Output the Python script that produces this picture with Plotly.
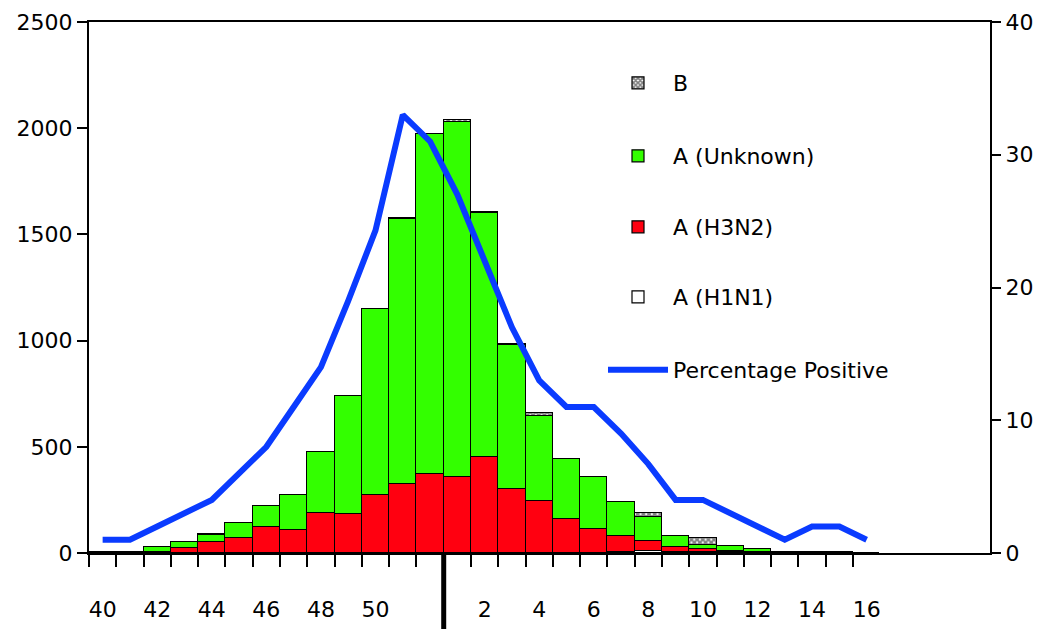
import plotly.graph_objects as go

# ---- data ----
weeks = [40, 41, 42, 43, 44, 45, 46, 47, 48, 49, 50, 51, 52,
         1, 2, 3, 4, 5, 6, 7, 8, 9, 10, 11, 12, 13, 14, 15, 16]
a_h1n1 = [0, 0, 0, 0, 0, 0, 0, 0, 0, 0, 0, 0, 0,
          0, 0, 0, 0, 2, 2, 3, 8, 5, 5, 4, 1, 0, 0, 0, 0]
a_h3n2 = [0, 0, 3, 22, 50, 72, 124, 108, 190, 184, 272, 327, 372,
          356, 452, 300, 243, 158, 110, 75, 48, 22, 14, 6, 2, 0, 0, 0, 0]
a_unknown = [0, 0, 27, 31, 34, 68, 97, 164, 284, 557, 877, 1247, 1601,
             1675, 1150, 680, 402, 282, 248, 160, 114, 54, 20, 23, 18, 0, 0, 0, 0]
b_cases = [5, 5, 0, 0, 5, 0, 0, 0, 0, 0, 0, 2, 0,
           8, 3, 2, 15, 0, 0, 2, 16, 0, 30, 0, 0, 4, 4, 4, 0]
pct_positive = [1, 1, 2, 3, 4, 6, 8, 11, 14, 19, 24.3, 33, 31,
                27, 22, 17, 13, 11, 11, 9, 6.7, 4, 4, 3, 2, 1, 2, 2, 1]
tick_weeks = [40, 42, 44, 46, 48, 50, 2, 4, 6, 8, 10, 12, 14, 16]
year_break_after_week = 52

x = list(range(len(weeks)))
tick_pos = [weeks.index(w) for w in tick_weeks]
edge_pos = [i - 0.5 for i in range(len(weeks))]  # bar boundaries (last bar has no data)
break_pos = weeks.index(year_break_after_week) + 0.5

FONT = "DejaVu Sans"
GREEN = "#33ff00"
RED = "#ff0010"
BLUE = "#0a3bff"

fig = go.Figure()
bar_line = dict(color="black", width=1.2)

fig.add_trace(go.Bar(x=x, y=a_h1n1, name="A (H1N1)", legend="legend4",
                     marker=dict(color="white", line=bar_line)))
fig.add_trace(go.Bar(x=x, y=a_h3n2, name="A (H3N2)", legend="legend3",
                     marker=dict(color=RED, line=bar_line)))
fig.add_trace(go.Bar(x=x, y=a_unknown, name="A (Unknown)", legend="legend2",
                     marker=dict(color=GREEN, line=bar_line)))
fig.add_trace(go.Bar(x=x, y=b_cases, name="B", legend="legend",
                     marker=dict(color="white", line=bar_line,
                                 pattern=dict(shape="x", fgcolor="black", bgcolor="white",
                                              size=4, solidity=0.75))))
fig.add_trace(go.Scatter(x=x, y=pct_positive, name="Percentage Positive", legend="legend5",
                         yaxis="y2", mode="lines",
                         line=dict(color=BLUE, width=6)))

# page body has an 8px default margin: the figure is sized/offset to compensate
OFF = 8
W, H = 1045 - OFF, 629 - OFF
L, R, T, B = 89 - OFF, 55, 22 - OFF, 76
pw, ph = W - L - R, H - T - B
per_bar = (853 - 89) / 28.0
x_max = -0.5 + pw / per_bar


def py(pix):
    # pix: vertical pixel position in the page
    return (H - B - (pix - OFF)) / ph


leg_x = (603 - 89) / pw
leg_common = dict(x=leg_x, xanchor="left", yanchor="middle", bgcolor="rgba(0,0,0,0)",
                  font=dict(family=FONT, size=22, color="black"), itemwidth=60,
                  borderwidth=0)

fig.update_layout(
    width=W, height=H,
    margin=dict(l=L, r=R, t=T, b=B, autoexpand=False),
    paper_bgcolor="white", plot_bgcolor="white",
    barmode="stack", bargap=0,
    font=dict(family=FONT, size=22, color="black"),
    showlegend=True,
    legend=dict(y=py(83), **leg_common),
    legend2=dict(y=py(156), **leg_common),
    legend3=dict(y=py(227), **leg_common),
    legend4=dict(y=py(297), **leg_common),
    legend5=dict(y=py(370), **leg_common),
    xaxis=dict(range=[-0.5, x_max], showline=True, linewidth=2, linecolor="black",
               mirror=True, showgrid=False, zeroline=False, automargin=False,
               tickmode="array", tickvals=tick_pos, ticktext=[str(w) for w in tick_weeks],
               ticks="", ticklabelstandoff=36,
               tickfont=dict(family=FONT, size=22, color="black"),
               minor=dict(tickmode="array", tickvals=edge_pos, ticks="outside",
                          ticklen=12, tickwidth=2, tickcolor="black", showgrid=False)),
    yaxis=dict(range=[0, 2500], tickvals=[0, 500, 1000, 1500, 2000, 2500],
               showline=True, linewidth=2, linecolor="black", showgrid=False, zeroline=False,
               ticks="outside", ticklen=10, tickwidth=2, tickcolor="black", automargin=False,
               tickfont=dict(family=FONT, size=22, color="black")),
    yaxis2=dict(range=[0, 40], tickvals=[0, 10, 20, 30, 40], overlaying="y", side="right",
                showline=True, linewidth=2, linecolor="black", showgrid=False, zeroline=False,
                ticks="outside", ticklen=9, tickwidth=2, tickcolor="black", automargin=False,
                tickfont=dict(family=FONT, size=22, color="black")),
)

# year-boundary marker below the axis
fig.add_shape(type="line", xref="x", yref="paper", x0=break_pos, x1=break_pos,
              y0=0, y1=-B / ph, line=dict(color="black", width=5))

fig.write_html("out.html")
